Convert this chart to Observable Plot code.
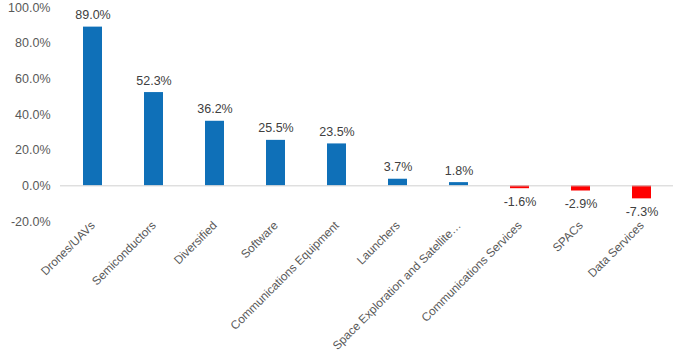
<!DOCTYPE html>
<html>
<head>
<meta charset="utf-8">
<script src="https://cdn.jsdelivr.net/npm/d3@7"></script>
<script src="https://cdn.jsdelivr.net/npm/@observablehq/plot@0.6"></script>
<style>
body { margin: 0; background: #fff; }
svg { font-family: "Liberation Sans", Arial, sans-serif; }
</style>
</head>
<body>
<div id="chart"></div>
<script>
const categories = ["Drones/UAVs", "Semiconductors", "Diversified", "Software", "Communications Equipment", "Launchers", "Space Exploration and Satellite…", "Communications Services", "SPACs", "Data Services"];
const values = [89.0, 52.3, 36.2, 25.5, 23.5, 3.7, 1.8, -1.6, -2.9, -7.3];
const yTicks = [-20, 0, 20, 40, 60, 80, 100];

const data = categories.map((c, i) => ({category: c, value: values[i]}));
const fmt = v => v.toFixed(1) + "%";

const chart = Plot.plot({
  width: 687,
  height: 358,
  marginLeft: 60,
  marginRight: 14,
  marginTop: 7,
  marginBottom: 137,
  style: {fontFamily: "'Liberation Sans', Arial, sans-serif", fontSize: "12px", color: "#595959", background: "#fff"},
  x: {domain: categories, paddingInner: 0.69, paddingOuter: 0.345, label: null},
  y: {domain: [-20, 100], ticks: yTicks, label: null},
  marks: [
    Plot.axisY({ticks: yTicks, tickSize: 0, tickPadding: 10, tickFormat: fmt, fontSize: 12.5, fill: "#595959"}),
    Plot.axisX({tickSize: 0, tickRotate: -45, tickPadding: 2, fontSize: 11.8, fill: "#595959"}),
    Plot.barY(data, {x: "category", y: "value", fill: d => d.value >= 0 ? "#0f70b8" : "#ff0000"}),
    Plot.ruleY([0], {stroke: "#d0d0d0", strokeWidth: 1}),
    Plot.text(data.filter(d => d.value >= 0), {x: "category", y: "value", text: d => fmt(d.value), dy: -12, fontSize: 12.5, fill: "#404040"}),
    Plot.text(data.filter(d => d.value < 0), {x: "category", y: "value", text: d => fmt(d.value), dy: 13, fontSize: 12.5, fill: "#404040"})
  ]
});
document.getElementById("chart").appendChild(chart);
</script>
</body>
</html>
